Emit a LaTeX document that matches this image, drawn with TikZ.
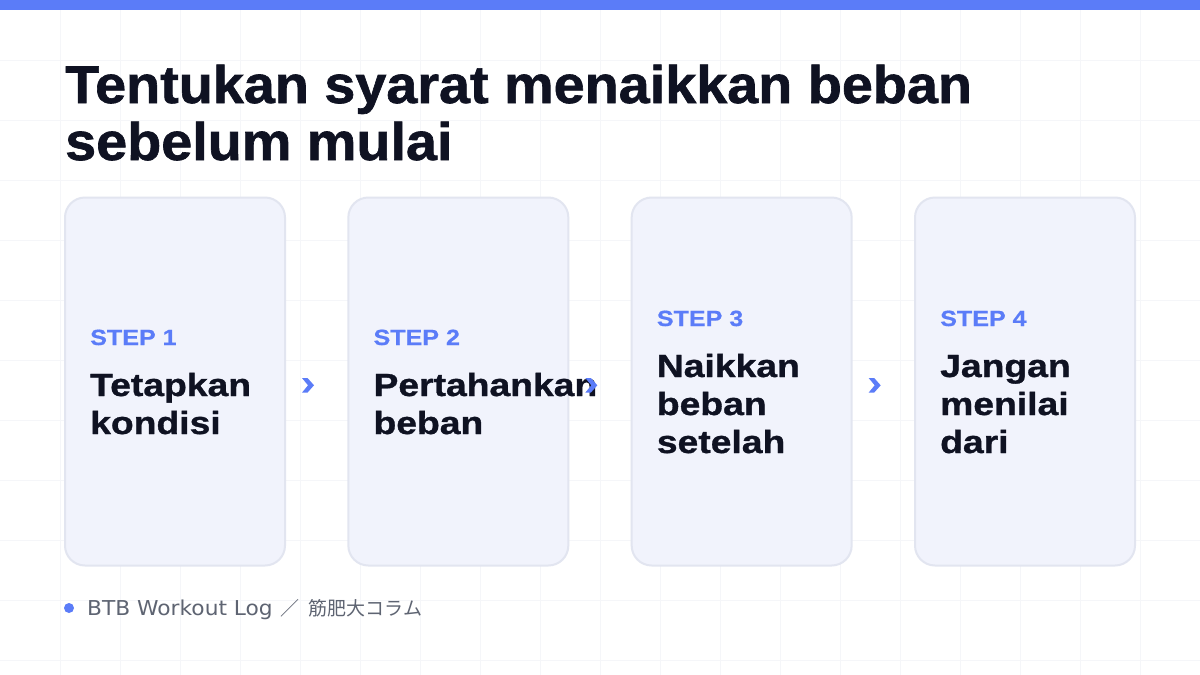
\documentclass[tikz,border=0pt]{standalone}
\usepackage{fontspec}
\setmainfont{Liberation Sans}
\newfontfamily\titlefont{Liberation Sans Bold}[FakeStretch=1.052,FakeBold=1.2]
\newfontfamily\bodyfont{Liberation Sans Bold}[FakeStretch=1.165,FakeBold=1.0]
\newfontfamily\stepfont{Liberation Sans Bold}[FakeStretch=1.14,FakeBold=0.6]
\newfontfamily\footfont{DejaVu Sans}[FakeStretch=1.06]
\newfontfamily\cjkfont{Noto Sans CJK JP}
\usetikzlibrary{calc}
\definecolor{accent}{HTML}{5B7CF8}
\definecolor{ink}{HTML}{0F1222}
\definecolor{cardfill}{HTML}{F1F3FC}
\definecolor{cardline}{HTML}{E2E5F0}
\definecolor{gridc}{HTML}{F5F6F9}
\definecolor{footgray}{HTML}{5E6472}
\begin{document}
\begin{tikzpicture}[x=1pt,y=-1pt,
  gridline/.style={draw=gridc,line width=1pt},
  card/.style={draw=cardline,fill=cardfill,line width=2pt,rounded corners=20pt,
    minimum width=220pt,minimum height=368pt,inner sep=0pt},
  steplbl/.style={anchor=base west,inner sep=0pt,text=accent,
    font={\stepfont\fontsize{22}{26}\selectfont}},
  cardtxt/.style={anchor=base west,inner sep=0pt,text=ink,
    font={\bodyfont\fontsize{32}{38}\selectfont}},
  titletxt/.style={anchor=base west,inner sep=0pt,text=ink,
    font={\titlefont\fontsize{53}{57}\selectfont}},
  chev/.style={fill=accent,draw=none}
]
\useasboundingbox (0,0) rectangle (1200,675);
\fill[white] (0,0) rectangle (1200,675);
% grid
\foreach \gx in {60,120,...,1140} \draw[gridline] (\gx,0) -- (\gx,675);
\foreach \gy in {60,120,...,660} \draw[gridline] (0,\gy) -- (1200,\gy);
% top bar
\fill[accent] (0,0) rectangle (1200,10);
% title
\node[titletxt] (t1) at (65,103) {Tentukan syarat menaikkan beban};
\node[titletxt] (t2) at (65,160) {sebelum mulai};
% cards
\node[card] (card1) at (175,381.5) {};
\node[card] (card2) at (458.33,381.5) {};
\node[card] (card3) at (741.67,381.5) {};
\node[card] (card4) at (1025,381.5) {};
% card 1
\node[steplbl] (s1) at (90,345) {STEP 1};
\node[cardtxt] (a1) at (90,396) {Tetapkan};
\node[cardtxt] (b1) at (90,434) {kondisi};
% card 2
\node[steplbl] (s2) at (373.33,345) {STEP 2};
\node[cardtxt] (a2) at (373.33,396) {Pertahankan};
\node[cardtxt] (b2) at (373.33,434) {beban};
% card 3
\node[steplbl] (s3) at (656.67,326) {STEP 3};
\node[cardtxt] (a3) at (656.67,377) {Naikkan};
\node[cardtxt] (b3) at (656.67,415) {beban};
\node[cardtxt] (c3) at (656.67,453) {setelah};
% card 4
\node[steplbl] (s4) at (940,326) {STEP 4};
\node[cardtxt] (a4) at (940,377) {Jangan};
\node[cardtxt] (b4) at (940,415) {menilai};
\node[cardtxt] (c4) at (940,453) {dari};
% chevrons
\foreach \i in {1,2,3}{
  \coordinate (ch\i) at ($(card\i.east)+(22,3.8)$);
  \fill[chev] ($(ch\i)+(-6,-7.3)$) -- ($(ch\i)+(-0.5,-7.3)$) -- ($(ch\i)+(6,0)$)
     -- ($(ch\i)+(-0.5,7.3)$) -- ($(ch\i)+(-6,7.3)$) -- ($(ch\i)+(0,0)$) -- cycle;
}
% footer
\node[circle,fill=accent,minimum size=10pt,inner sep=0pt] (dot) at (69,608) {};
\node[anchor=base west,inner sep=0pt,text=footgray] (foot) at (87,615)
  {{\footfont\fontsize{20.5}{22}\selectfont BTB Workout Log\hspace{8pt}}{\cjkfont\fontsize{19}{22}\selectfont ／\hspace{9pt}筋肥大コラム}};
\end{tikzpicture}
\end{document}
